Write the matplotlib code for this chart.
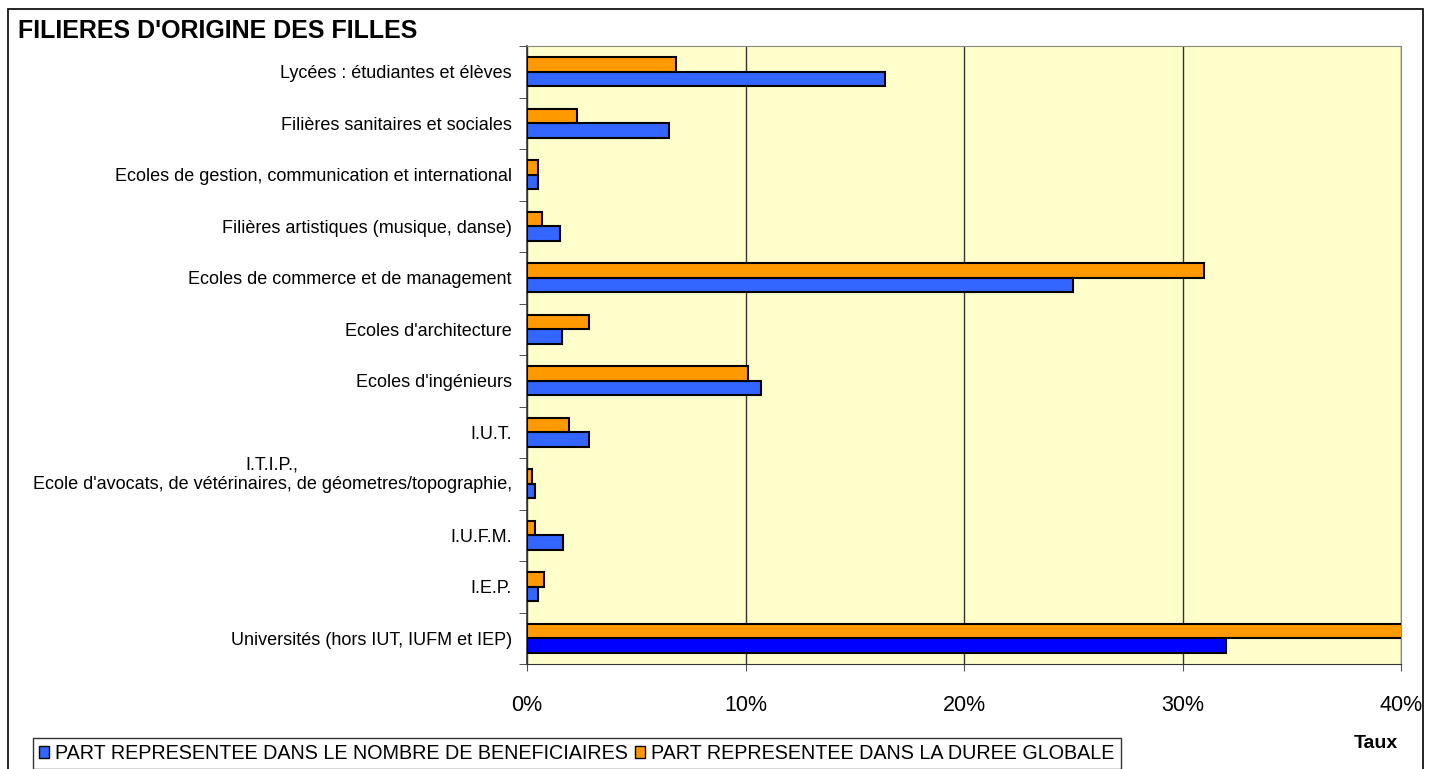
import numpy as np
import matplotlib
matplotlib.use('Agg')
import matplotlib.pyplot as plt
import matplotlib.transforms as mtransforms
from matplotlib.patches import Patch, Rectangle

plt.rcParams['font.family'] = ['Liberation Sans', 'DejaVu Sans']

categories = ['Lycées : étudiantes et élèves',
              'Filières sanitaires et sociales',
              'Ecoles de gestion, communication et international',
              'Filières artistiques (musique, danse)',
              'Ecoles de commerce et de management',
              "Ecoles d'architecture",
              "Ecoles d'ingénieurs",
              'I.U.T.',
              "I.T.I.P.,\nEcole d'avocats, de vétérinaires, de géometres/topographie,",
              'I.U.F.M.',
              'I.E.P.',
              'Universités (hors IUT, IUFM et IEP)']
part_nombre = [16.4, 6.5, 0.5, 1.5, 25.0, 1.6, 10.7, 2.85, 0.35, 1.65, 0.5, 32.0]
part_duree = [6.8, 2.3, 0.5, 0.7, 31.0, 2.85, 10.1, 1.9, 0.25, 0.35, 0.8, 41.0]
xticks = [0, 10, 20, 30, 40]
xticklabels = ['0%', '10%', '20%', '30%', '40%']

blue = '#3366FF'
orange = '#FF9900'

fig = plt.figure(figsize=(14.34, 7.69), dpi=100)
ax = fig.add_axes([527/1434, 1-664/769, (1401-527)/1434, (664-46)/769])
ax.set_facecolor('#FFFFCC')

n = len(categories)
y = np.arange(n)[::-1]
h = 0.28
bcolors = [blue]*(n-1) + ['#0000FF']
ax.barh(y - h/2, part_nombre, height=h, color=bcolors, edgecolor='black', linewidth=1.5, zorder=3)
ax.barh(y + h/2, part_duree, height=h, color=orange, edgecolor='black', linewidth=1.5, zorder=3)

ax.set_xlim(0, 40)
ax.set_ylim(-0.5, n-0.5)
ax.set_xticks(xticks)
ax.set_xticklabels(xticklabels, fontsize=15.5)
ax.tick_params(axis='x', length=5, pad=17, color='#555555')
ax.set_yticks(y)
ax.set_yticklabels(categories, fontsize=13, multialignment='center')
ax.tick_params(axis='y', which='major', length=0, pad=11)
ax.set_yticks(np.arange(n+1) - 0.5, minor=True)
ax.tick_params(axis='y', which='minor', length=6, color='#333333')
ax.grid(axis='x', color='#333333', linewidth=1, zorder=1)
for s in ['top', 'right']:
    ax.spines[s].set_color('#888888')
for s in ['left', 'bottom']:
    ax.spines[s].set_color('#333333')
ax.spines['left'].set_linewidth(1.2)

# the two-line label sits a bit higher in the original
lab = ax.get_yticklabels()[8]
lab.set_transform(lab.get_transform() + mtransforms.ScaledTranslation(0, 12/100, fig.dpi_scale_trans))

fig.text(18/1434, 1-31/769, "FILIERES D'ORIGINE DES FILLES", fontsize=18,
         fontweight='bold', va='center', ha='left')
fig.text(1376/1434, 1-743/769, 'Taux', fontsize=14, fontweight='bold', va='center', ha='center')

handles = [Patch(facecolor=blue, edgecolor='black'), Patch(facecolor=orange, edgecolor='black')]
leg = fig.legend(handles, ['PART REPRESENTEE DANS LE NOMBRE DE BENEFICIAIRES',
                           'PART REPRESENTEE DANS LA DUREE GLOBALE'],
                 loc='upper left', bbox_to_anchor=(33/1434, 1-738/769), ncol=2,
                 fontsize=14.2, frameon=True, fancybox=False, edgecolor='black',
                 handlelength=0.5, handleheight=0.5, handletextpad=0.3,
                 columnspacing=0.4, borderpad=0.3, borderaxespad=0)
leg.get_frame().set_linewidth(1)

fig.patches.append(Rectangle((8/1434, -0.05), (1423-8)/1434, 1.05-9/769, fill=False,
                             edgecolor='black', linewidth=1.2, transform=fig.transFigure))

fig.savefig('out.png', dpi=100, facecolor='white')
